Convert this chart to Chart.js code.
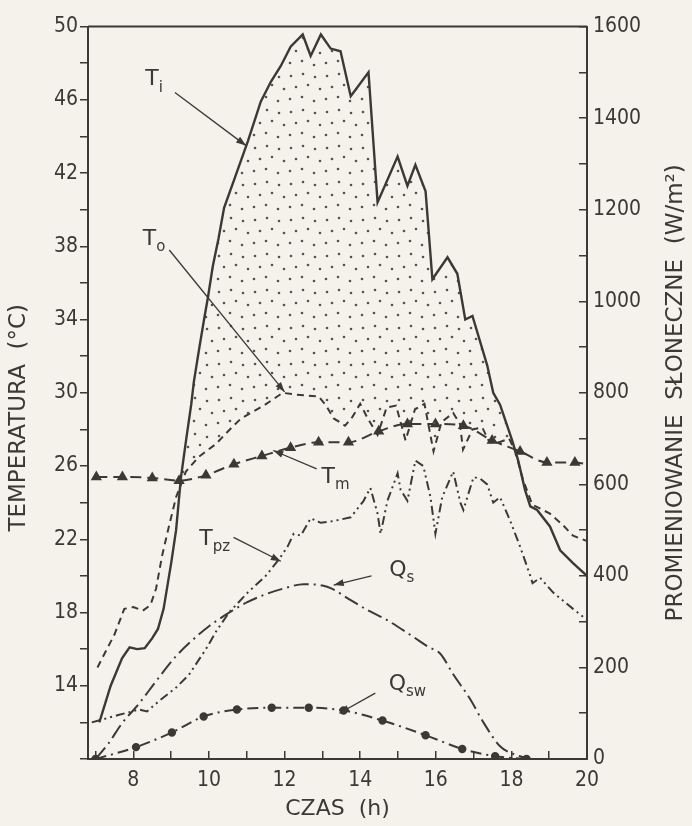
<!DOCTYPE html>
<html>
<head>
<meta charset="utf-8">
<script src="https://cdn.jsdelivr.net/npm/chart.js@4/dist/chart.umd.min.js"></script>
<style>
  html, body { margin: 0; padding: 0; background: #f4f2ea; }
  #wrap { width: 692px; height: 826px; }
</style>
</head>
<body>
<div id="wrap"><canvas id="wykres" width="692" height="826"></canvas></div>
<script>
// Dane (godziny, °C i W/m2)
const godzinyTi = [7.1, 7.4, 7.7, 7.9, 8.1, 8.3, 8.5, 8.65, 8.8, 9.0, 9.13, 9.26, 9.4, 9.53, 9.6, 9.74, 9.87, 9.98, 10.1, 10.25, 10.4, 10.66, 11.03, 11.37, 11.64, 11.9, 12.16, 12.48, 12.69, 12.96, 13.22, 13.48, 13.75, 14.22, 14.46, 14.99, 15.25, 15.46, 15.73, 15.91, 16.31, 16.57, 16.78, 16.97, 17.36, 17.52, 17.7, 18.02, 18.18, 18.36, 18.5, 18.68, 19.02, 19.29, 19.63, 20.0];
const tempTi = [12.0, 14.0, 15.5, 16.1, 16.0, 16.05, 16.6, 17.1, 18.2, 20.7, 22.5, 25.4, 27.5, 29.35, 30.6, 32.4, 34.0, 35.3, 36.9, 38.4, 40.1, 41.6, 43.75, 45.9, 47.0, 47.85, 48.9, 49.57, 48.4, 49.57, 48.8, 48.65, 46.2, 47.5, 40.4, 42.9, 41.3, 42.45, 41.0, 36.2, 37.4, 36.5, 34.0, 34.2, 31.5, 30.0, 29.35, 27.4, 26.3, 24.7, 23.8, 23.6, 22.7, 21.4, 20.7, 20.0];

const godzinyTo = [7.05, 7.5, 7.76, 8.0, 8.25, 8.45, 8.6, 8.76, 8.94, 9.13, 9.39, 9.73, 10.18, 10.6, 10.85, 11.45, 11.95, 12.3, 12.9, 13.1, 13.3, 13.6, 13.8, 14.0, 14.2, 14.46, 14.7, 14.95, 15.2, 15.45, 15.7, 15.94, 16.15, 16.46, 16.64, 16.72, 16.97, 17.23, 17.42, 17.68, 17.94, 18.1, 18.3, 18.55, 19.02, 19.35, 19.63, 20.0];
const tempTo = [15.0, 16.8, 18.2, 18.3, 18.1, 18.4, 19.3, 21.1, 22.7, 24.3, 25.7, 26.5, 27.2, 28.1, 28.6, 29.3, 30.0, 29.9, 29.8, 29.3, 28.6, 28.2, 28.7, 29.4, 28.6, 27.7, 29.2, 29.3, 27.4, 29.1, 29.4, 26.8, 28.4, 28.9, 28.3, 26.9, 28.0, 28.1, 27.3, 27.3, 27.5, 26.8, 25.3, 23.9, 23.4, 22.8, 22.2, 21.9];

const godzinyTm = [7.02, 7.71, 8.5, 9.21, 9.92, 10.66, 11.4, 12.16, 12.9, 13.69, 14.49, 15.25, 15.99, 16.73, 17.49, 18.23, 18.94, 19.68, 20.0];
const tempTm = [25.4, 25.4, 25.35, 25.2, 25.5, 26.1, 26.55, 27.0, 27.3, 27.3, 27.9, 28.3, 28.3, 28.2, 27.4, 26.8, 26.2, 26.2, 26.1];

const godzinyTpz = [6.9, 7.6, 8.15, 8.36, 8.7, 9.13, 9.47, 9.92, 10.2, 10.53, 11.03, 11.5, 11.85, 12.08, 12.24, 12.43, 12.69, 12.96, 13.3, 13.75, 14.09, 14.27, 14.46, 14.54, 14.72, 14.99, 15.07, 15.25, 15.46, 15.67, 15.86, 15.99, 16.17, 16.46, 16.65, 16.73, 17.0, 17.18, 17.36, 17.52, 17.7, 17.97, 18.23, 18.5, 18.56, 18.76, 19.1, 19.63, 20.0];
const tempTpz = [12.0, 12.4, 12.7, 12.6, 13.2, 13.9, 14.6, 16.0, 17.0, 18.0, 19.1, 20.0, 20.9, 21.6, 22.3, 22.2, 23.15, 22.9, 23.0, 23.2, 24.1, 24.8, 23.4, 22.3, 24.1, 25.6, 24.7, 24.1, 26.3, 26.0, 24.3, 22.3, 24.3, 25.7, 24.0, 23.6, 25.4, 25.3, 25.0, 24.0, 24.3, 23.0, 21.6, 20.0, 19.6, 19.9, 19.1, 18.2, 17.6];

const godzinyQs = [7.0, 7.35, 7.7, 8.15, 8.6, 9.1, 9.5, 10.0, 10.5, 11.0, 11.5, 12.0, 12.5, 13.0, 13.25, 13.75, 14.2, 14.7, 15.4, 15.8, 16.12, 16.46, 16.9, 17.26, 17.7, 18.15, 18.5];
const promQs = [0, 35, 78, 121, 170, 222, 255, 290, 318, 342, 360, 373, 382, 379, 372, 347, 325, 304, 267, 245, 230, 185, 132, 80, 28, 8, 0];

const godzinyQsw = [7.0, 8.07, 9.02, 9.86, 10.74, 11.66, 12.64, 13.56, 14.59, 15.73, 16.7, 17.57, 18.4];
const promQsw = [0, 26, 58, 93, 108, 112, 112, 106, 84, 52, 22, 6, 0];

// Podziałki osi i etykiety
const podzialkaCzasu = [7, 8, 9, 10, 11, 12, 13, 14, 15, 16, 17, 18, 19, 20];
const etykietyCzasu = [8, 10, 12, 14, 16, 18, 20];
const podzialkaTemp = [10, 12, 14, 16, 18, 20, 22, 24, 26, 28, 30, 32, 34, 36, 38, 40, 42, 44, 46, 48, 50];
const etykietyTemp = [14, 18, 22, 26, 30, 34, 38, 42, 46, 50];
const podzialkaProm = [0, 100, 200, 300, 400, 500, 600, 700, 800, 900, 1000, 1100, 1200, 1300, 1400, 1500, 1600];
const etykietyProm = [0, 200, 400, 600, 800, 1000, 1200, 1400, 1600];

const tytulLewy = 'TEMPERATURA  (°C)';
const tytulPrawy = 'PROMIENIOWANIE  SŁONECZNE  (W/m²)';

// Opisy krzywych ze strzałkami (w układzie godzina / °C)
const opisy = [
  { tekst: 'T', indeks: 'i', x: 8.55, y: 47.1, od: [9.1, 46.4], cel: [10.98, 43.5] },
  { tekst: 'T', indeks: 'o', x: 8.55, y: 38.4, od: [8.95, 37.8], cel: [12.0, 30.05] },
  { tekst: 'T', indeks: 'm', x: 13.35, y: 25.4, od: [12.85, 25.85], cel: [11.7, 26.85] },
  { tekst: 'T', indeks: 'pz', x: 10.15, y: 22.0, od: [10.65, 22.1], cel: [11.9, 20.8] },
  { tekst: 'Q', indeks: 's', x: 15.1, y: 20.3, od: [14.3, 20.0], cel: [13.3, 19.5] },
  { tekst: 'Q', indeks: 'sw', x: 15.25, y: 14.1, od: [14.4, 13.6], cel: [13.45, 12.5] }
];

const ink = '#3a3935';
const tlo = '#f4f2ea';
const fontOsi = { family: 'DejaVu Sans Condensed', size: 21 };
const fontTytulu = { family: 'DejaVu Sans', size: 22 };

// Wzór kropek do zakreskowania pola między Ti i To
function wzorKropek() {
  const c = document.createElement('canvas');
  c.width = 36; c.height = 36;
  const g = c.getContext('2d');
  g.fillStyle = '#55534d';
  [[3, 4], [15, 2], [27, 5], [8, 15], [20, 13], [32, 17], [2, 27], [14, 25], [26, 29]].forEach(p => {
    g.beginPath(); g.arc(p[0], p[1], 1.3, 0, Math.PI * 2); g.fill();
  });
  return g.createPattern(c, 'repeat');
}

const pary = (xs, ys) => xs.map((x, i) => ({ x: x, y: ys[i] }));

const ctx = document.getElementById('wykres').getContext('2d');

const pluginTlo = {
  id: 'tlo',
  beforeDraw(chart) {
    const c = chart.ctx;
    c.save(); c.fillStyle = tlo; c.fillRect(0, 0, chart.width, chart.height); c.restore();
  }
};

const pluginRamka = {
  id: 'ramka',
  afterDraw(chart) {
    const c = chart.ctx, a = chart.chartArea;
    c.save();
    c.strokeStyle = ink; c.lineWidth = 2;
    c.beginPath(); c.moveTo(a.left, a.top); c.lineTo(a.right, a.top); c.stroke();
    // tytuły osi pionowych
    const srodek = (a.top + a.bottom) / 2;
    c.fillStyle = ink;
    c.font = '23px "' + fontTytulu.family + '"';
    c.textAlign = 'center'; c.textBaseline = 'middle';
    c.save(); c.translate(19, srodek + 25); c.rotate(-Math.PI / 2); c.fillText(tytulLewy, 0, 0); c.restore();
    c.save(); c.translate(a.right + 89, srodek); c.rotate(-Math.PI / 2); c.fillText(tytulPrawy, 0, 0); c.restore();
    c.restore();
  }
};

const pluginOpisy = {
  id: 'opisy',
  afterDatasetsDraw(chart) {
    const c = chart.ctx, sx = chart.scales.x, sy = chart.scales.y;
    c.save();
    c.fillStyle = ink; c.strokeStyle = ink; c.lineWidth = 1.3;
    opisy.forEach(o => {
      const px = sx.getPixelForValue(o.x), py = sy.getPixelForValue(o.y);
      c.font = '22px "DejaVu Sans"';
      const w1 = c.measureText(o.tekst).width;
      c.font = '15px "DejaVu Sans"';
      const w2 = c.measureText(o.indeks).width;
      const x0 = px - (w1 + w2) / 2;
      c.textBaseline = 'middle'; c.textAlign = 'left';
      c.font = '22px "DejaVu Sans"';
      c.fillText(o.tekst, x0, py);
      c.font = '15px "DejaVu Sans"';
      c.fillText(o.indeks, x0 + w1, py + 8);
      // strzałka
      const x1 = sx.getPixelForValue(o.od[0]), y1 = sy.getPixelForValue(o.od[1]);
      const x2 = sx.getPixelForValue(o.cel[0]), y2 = sy.getPixelForValue(o.cel[1]);
      c.beginPath(); c.moveTo(x1, y1); c.lineTo(x2, y2); c.stroke();
      const kat = Math.atan2(y2 - y1, x2 - x1);
      c.beginPath();
      c.moveTo(x2, y2);
      c.lineTo(x2 - 10 * Math.cos(kat) + 3.5 * Math.sin(kat), y2 - 10 * Math.sin(kat) - 3.5 * Math.cos(kat));
      c.lineTo(x2 - 10 * Math.cos(kat) - 3.5 * Math.sin(kat), y2 - 10 * Math.sin(kat) + 3.5 * Math.cos(kat));
      c.closePath(); c.fill();
    });
    c.restore();
  }
};

const liniaBazowa = { borderColor: ink, borderWidth: 2, pointRadius: 0, fill: false, tension: 0 };

new Chart(ctx, {
  type: 'line',
  data: {
    datasets: [
      Object.assign({}, liniaBazowa, {
        label: 'Ti', data: pary(godzinyTi, tempTi), yAxisID: 'y', borderWidth: 2.4,
        fill: { target: 1, above: wzorKropek(), below: 'rgba(0,0,0,0)' }
      }),
      Object.assign({}, liniaBazowa, { label: 'To', data: pary(godzinyTo, tempTo), yAxisID: 'y', borderDash: [7, 5] }),
      Object.assign({}, liniaBazowa, {
        label: 'Tm', data: pary(godzinyTm, tempTm), yAxisID: 'y', borderDash: [11, 6],
        cubicInterpolationMode: 'monotone',
        pointStyle: 'triangle', pointBackgroundColor: ink, pointBorderColor: ink,
        pointRadius: c => c.dataIndex < godzinyTm.length - 1 ? 4.5 : 0
      }),
      Object.assign({}, liniaBazowa, { label: 'Tpz', data: pary(godzinyTpz, tempTpz), yAxisID: 'y', borderDash: [9, 4, 2, 4, 2, 4] }),
      Object.assign({}, liniaBazowa, {
        label: 'Qs', data: pary(godzinyQs, promQs), yAxisID: 'y2', borderDash: [15, 5, 2, 5],
        cubicInterpolationMode: 'monotone'
      }),
      Object.assign({}, liniaBazowa, {
        label: 'Qsw', data: pary(godzinyQsw, promQsw), yAxisID: 'y2', borderDash: [11, 5, 2, 5],
        cubicInterpolationMode: 'monotone',
        pointStyle: 'circle', pointRadius: 3.2, pointBackgroundColor: ink, pointBorderColor: ink
      })
    ]
  },
  options: {
    responsive: false,
    animation: false,
    layout: { padding: { top: 17, left: 0, right: 0, bottom: 0 } },
    plugins: { legend: { display: false }, tooltip: { enabled: false } },
    scales: {
      x: {
        type: 'linear', min: 6.8, max: 20,
        afterBuildTicks: s => { s.ticks = podzialkaCzasu.map(v => ({ value: v })); },
        afterFit: s => { s.height = 67; },
        border: { color: ink, width: 2 },
        grid: { drawOnChartArea: false, tickLength: -8, color: ink, lineWidth: 1.5 },
        ticks: {
          autoSkip: false, maxRotation: 0, padding: 17, color: ink, font: fontOsi,
          callback: v => etykietyCzasu.includes(v) ? String(v) : ''
        },
        title: { display: true, text: 'CZAS  (h)', color: ink, font: fontTytulu, padding: { top: 0, bottom: 4 } }
      },
      y: {
        position: 'left', min: 10, max: 50,
        afterBuildTicks: s => { s.ticks = podzialkaTemp.map(v => ({ value: v })); },
        afterFit: s => { s.width = 88; },
        border: { color: ink, width: 2 },
        grid: { drawOnChartArea: false, tickLength: 8, color: ink, lineWidth: 1.5 },
        ticks: {
          autoSkip: false, padding: 2, color: ink, font: fontOsi,
          callback: v => etykietyTemp.includes(v) ? String(v) : ''
        }
      },
      y2: {
        position: 'right', min: 0, max: 1600,
        afterBuildTicks: s => { s.ticks = podzialkaProm.map(v => ({ value: v })); },
        afterFit: s => { s.width = 105; },
        border: { color: ink, width: 2 },
        grid: { drawOnChartArea: false, tickLength: -8, color: ink, lineWidth: 1.5 },
        ticks: {
          autoSkip: false, padding: 14, color: ink, font: fontOsi,
          callback: v => etykietyProm.includes(v) ? String(v) : ''
        }
      }
    }
  },
  plugins: [pluginTlo, pluginRamka, pluginOpisy]
});
</script>
</body>
</html>
